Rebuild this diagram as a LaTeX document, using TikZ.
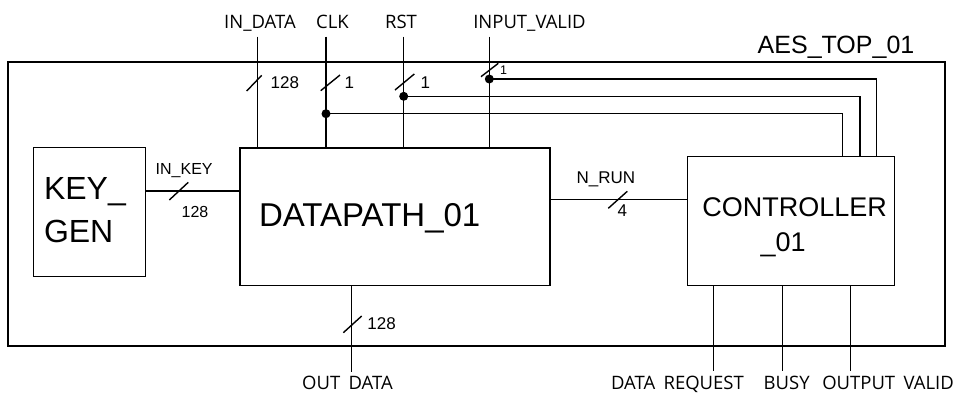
\documentclass[tikz,border=0pt]{standalone}
\usepackage{fontspec}
\setmainfont{Liberation Sans}
\newfontfamily\sigfont{Open Sans}
\newcommand{\usp}{\phantom{\_}}
\begin{document}
\begin{tikzpicture}[x=1pt,y=-1pt,line width=1.4pt,
  box/.style={draw,inner sep=0pt,line width=1.4pt},
  sig/.style={font=\sigfont\fontsize{18.5}{20}\selectfont,anchor=base,inner sep=0pt},
  bw/.style={font=\fontsize{17}{19}\selectfont,anchor=base west,inner sep=0pt},
  big/.style={anchor=base west,inner sep=0pt},
  dot/.style={circle,fill,inner sep=0pt,minimum size=9pt},
  slash/.style={line width=1.4pt}]
\useasboundingbox (0,0) rectangle (956,392);
% boxes
\node[box,minimum width=937pt,minimum height=284pt] (top) at (476.5,204) {};
\node[box,minimum width=112pt,minimum height=129pt] (kg) at (89.7,212.2) {};
\node[box,minimum width=310pt,minimum height=137.3pt] (dp) at (395,216.6) {};
\node[box,minimum width=207pt,minimum height=129pt] (ct) at (790.8,221.2) {};
% box texts
\node[big,font=\fontsize{25}{28}\selectfont,anchor=base east] (toplbl) at (915,53) {AES\_TOP\_01};
\node[big,font=\fontsize{32}{36}\selectfont] (kg1) at (43.3,199) {KEY\_};
\node[big,font=\fontsize{32}{36}\selectfont] (kg2) at (43.3,242.3) {GEN};
\node[big,font=\fontsize{33}{36}\selectfont] (dpl) at (258.3,226.7) {DATAPATH\_01};
\node[big,font=\fontsize{27}{30}\selectfont] (ct1) at (701.7,216.7) {CONTROLLER};
\node[big,font=\fontsize{27}{30}\selectfont] (ct2) at (760,251.7) {\_01};
% top signal ends
\coordinate (indata) at (257.7,36.7);
\coordinate (clk) at (326,36.7);
\coordinate (rst) at (403.7,36.7);
\coordinate (ivalid) at (489.3,36.7);
\node[sig] (lindata) at (260,28.3) {IN\_DATA};
\node[sig] (lclk) at (332.5,28.3) {CLK};
\node[sig] (lrst) at (401,28.3) {RST};
\node[sig] (livalid) at (529.5,28.3) {INPUT\_VALID};
\draw (indata) -- (indata |- dp.north);
\draw (clk) -- (clk |- dp.north);
\draw (rst) -- (rst |- dp.north);
\draw (ivalid) -- (ivalid |- dp.north);
% junction dots and branches
\node[dot] (dclk) at (326,113.7) {};
\node[dot] (drst) at (403.7,96.3) {};
\node[dot] (div) at (489.3,79) {};
\coordinate (cclk) at (842.7,113.7);
\coordinate (crst) at (860,96.3);
\coordinate (civ) at (876.7,79);
\draw (dclk.center) -- (cclk) -- (cclk |- ct.north);
\draw (drst.center) -- (crst) -- (crst |- ct.north);
\draw (div.center) -- (civ) -- (civ |- ct.north);
% bus slashes and widths
\draw[slash] (246.7,91) -- (261.7,75.3);
\draw[slash] (320.7,90.7) -- (340,75);
\draw[slash] (395,90) -- (414.3,74);
\draw[slash] (481,76.7) -- (498.3,63.3);
\node[bw] (w1) at (270,88) {128};
\node[bw] (w2) at (344,88) {1};
\node[bw] (w3) at (420,88) {1};
\node[bw,font=\fontsize{12.5}{14}\selectfont] (w4) at (499.3,74) {1};
% IN_KEY
\draw (kg.east |- 0,191) -- (dp.west |- 0,191);
\draw[slash] (169.3,200) -- (188.3,182.3);
\node[bw,font=\fontsize{16}{18}\selectfont] (inkey) at (155,174) {IN\_KEY};
\node[bw,font=\fontsize{16}{18}\selectfont] (w5) at (181,217) {128};
% N_RUN
\draw (dp.east |- 0,199.3) -- (ct.west |- 0,199.3);
\draw[slash] (608.3,208.3) -- (627.3,191.3);
\node[bw] (nrun) at (576,183.3) {N\_RUN};
\node[bw] (w6) at (617,216.7) {4};
% OUT_DATA
\coordinate (odata) at (351.7,371.7);
\draw (odata |- dp.south) -- (odata);
\draw[slash] (343.3,332.7) -- (361.7,316);
\node[bw] (w7) at (366.7,329.3) {128};
\node[sig] (lodata) at (347.5,389) {OUT\usp DATA};
% controller outputs
\coordinate (dreq) at (713.3,371);
\coordinate (busy) at (782.3,371);
\coordinate (ovalid) at (850.7,371);
\draw (dreq |- ct.south) -- (dreq);
\draw (busy |- ct.south) -- (busy);
\draw (ovalid |- ct.south) -- (ovalid);
\node[sig] (ldreq) at (677.5,389) {DATA\usp REQUEST};
\node[sig] (lbusy) at (786.7,389) {BUSY};
\node[sig] (lovalid) at (888,389) {OUTPUT\usp VALID};
\end{tikzpicture}
\end{document}
